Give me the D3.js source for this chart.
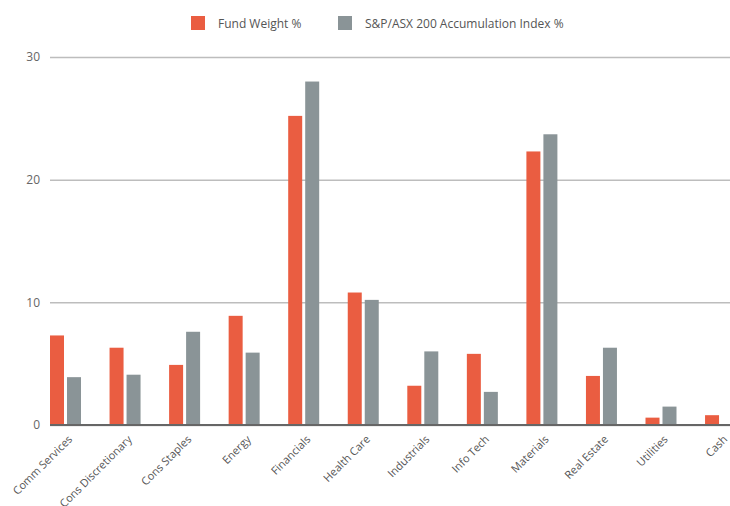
<!DOCTYPE html>
<html>
<head>
<meta charset="utf-8">
<script src="https://cdn.jsdelivr.net/npm/d3@7"></script>
<style>
  body { margin: 0; background: #fff; }
  svg text { font-family: "Open Sans", sans-serif; }
</style>
</head>
<body>
<div id="container"></div>
<script>
var categories = ["Comm Services", "Cons Discretionary", "Cons Staples", "Energy", "Financials",
                  "Health Care", "Industrials", "Info Tech", "Materials", "Real Estate", "Utilities", "Cash"];
var seriesNames = ["Fund Weight %", "S&P/ASX 200 Accumulation Index %"];
var fundWeight = [7.3, 6.3, 4.9, 8.9, 25.2, 10.8, 3.2, 5.8, 22.3, 4.0, 0.6, 0.8];
var indexWeight = [3.9, 4.1, 7.6, 5.9, 28.0, 10.2, 6.0, 2.7, 23.7, 6.3, 1.5, 0];
var yTicks = [0, 10, 20, 30];
var colors = ["#ea5d41", "#8a9497"];

var W = 730, H = 506;
// note: "top" is taken by window.top, so plotTop/plotBottom
var plotLeft = 50, plotRight = 730, plotTop = 57, plotBottom = 425;
var step = 59.55;

function makeSvg() {
  return d3.select("#container").append("svg")
    .attr("width", W).attr("height", H);
}

var svg = makeSvg();

var y = d3.scaleLinear().domain([0, 30]).range([plotBottom, plotTop]);
// bars sit at the left of each band, not centred
var x0 = d3.scaleBand().domain(categories).range([plotLeft, plotLeft + step * categories.length]).padding(0);
var x1 = d3.scaleBand().domain(seriesNames).range([0, 31]).paddingInner(3 / 17).paddingOuter(0);

// gridlines + y labels
var yAxis = d3.axisLeft(y).tickValues(yTicks).tickSize(-(plotRight - plotLeft)).tickPadding(10);
var gy = svg.append("g").attr("transform", "translate(" + plotLeft + ",0)").call(yAxis);
gy.select(".domain").remove();
gy.selectAll(".tick line").attr("stroke", "#bdbdbd").attr("stroke-width", 1.5);
gy.selectAll(".tick text").attr("fill", "#666").attr("font-size", 12).attr("x", -10);

var data = categories.map(function (c, i) {
  return { cat: c, vals: [fundWeight[i], indexWeight[i]] };
});

var groups = svg.append("g").selectAll("g").data(data).join("g")
  .attr("transform", function (d) { return "translate(" + x0(d.cat) + ",0)"; });

groups.selectAll("rect").data(function (d) {
  return d.vals.map(function (v, j) { return { s: seriesNames[j], v: v, j: j }; }).filter(function (e) { return e.v > 0; });
}).join("rect")
  .attr("x", function (e) { return x1(e.s); })
  .attr("width", x1.bandwidth())
  .attr("y", function (e) { return y(e.v); })
  .attr("height", function (e) { return plotBottom - y(e.v); })
  .attr("fill", function (e) { return colors[e.j]; });

// baseline
var xAxis = d3.axisBottom(x0).tickSize(0).tickFormat("");
var gx = svg.append("g").attr("transform", "translate(0," + plotBottom + ")").call(xAxis);
gx.select(".domain").attr("d", "M" + plotLeft + ",0H" + plotRight).attr("stroke", "#666").attr("stroke-width", 2);

// rotated category labels
svg.append("g").selectAll("text").data(categories).join("text")
  .attr("transform", function (c) {
    return "translate(" + (x0(c) + 23) + "," + (plotBottom + 15) + ") rotate(-45)";
  })
  .attr("text-anchor", "end")
  .attr("font-size", 11)
  .attr("fill", "#555")
  .text(function (c) { return c; });

// legend
var legendX = [191, 338];
var legend = svg.append("g").selectAll("g").data(seriesNames).join("g")
  .attr("transform", function (d, i) { return "translate(" + legendX[i] + ",16)"; });
legend.append("rect").attr("width", 14).attr("height", 14)
  .attr("fill", function (d, i) { return colors[i]; });
legend.append("text").attr("x", 27).attr("y", 11.5)
  .attr("font-size", 12).attr("fill", "#555")
  .text(function (d) { return d; });
</script>
</body>
</html>
